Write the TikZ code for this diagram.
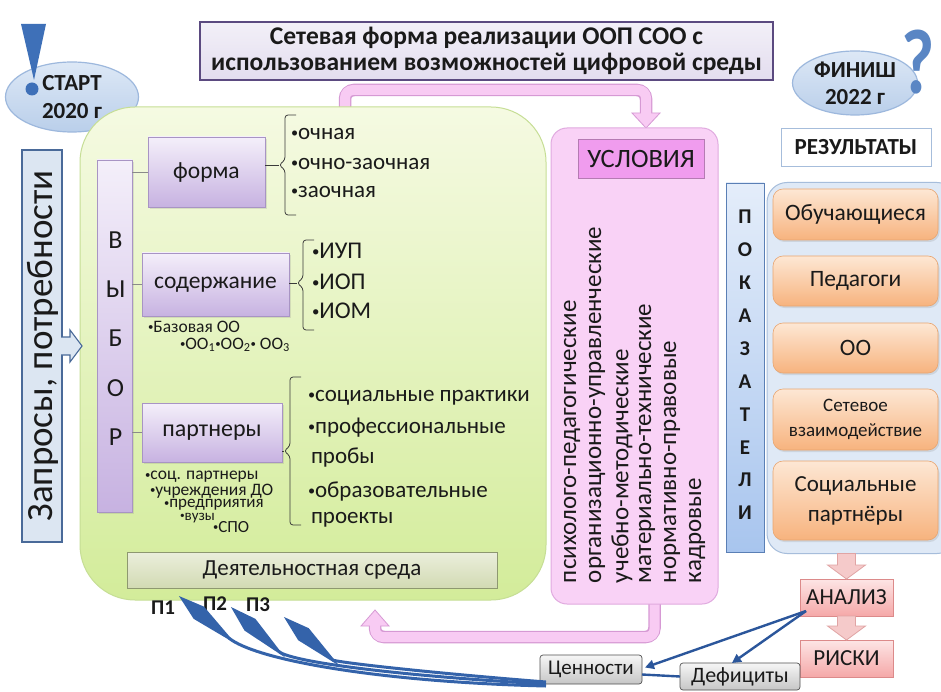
\documentclass[tikz,border=0pt]{standalone}
\usepackage{fontspec}
\setmainfont{Carlito}
\usetikzlibrary{arrows.meta,shapes.geometric,shadows,calc}
\pgfdeclarelayer{bg}
\pgfsetlayers{bg,main}
\definecolor{txt}{HTML}{1A1A1A}
\definecolor{titlefill}{HTML}{E3DDEF}
\definecolor{titlebd}{HTML}{5B4A80}
\definecolor{ellfillA}{HTML}{DDE8F6}
\definecolor{ellfillB}{HTML}{BACFEA}
\definecolor{ellbd}{HTML}{9DB8DD}
\definecolor{markblue}{HTML}{3E70B8}
\definecolor{qblue}{HTML}{5A86C4}
\definecolor{zapfill}{HTML}{DCE6F2}
\definecolor{zapbd}{HTML}{4A6A99}
\definecolor{greenA}{HTML}{F5FAE2}
\definecolor{greenB}{HTML}{D3EC9A}
\definecolor{greenbd}{HTML}{C6DE95}
\definecolor{purA}{HTML}{F4EFFA}
\definecolor{purB}{HTML}{C7B2E1}
\definecolor{purbd}{HTML}{A894C4}
\definecolor{deyA}{HTML}{EBEFDC}
\definecolor{deyB}{HTML}{D2DAB3}
\definecolor{deybd}{HTML}{8E9870}
\definecolor{uslfill}{HTML}{F9D2F6}
\definecolor{uslbd}{HTML}{E0AADF}
\definecolor{usllab}{HTML}{F09CEE}
\definecolor{usllabbd}{HTML}{B57BB3}
\definecolor{pinkfill}{HTML}{F8CBF3}
\definecolor{pinkbd}{HTML}{D699D4}
\definecolor{pokA}{HTML}{E4EDFA}
\definecolor{pokB}{HTML}{A8C5EE}
\definecolor{pokbd}{HTML}{5A7FB5}
\definecolor{panfill}{HTML}{DFE9F6}
\definecolor{panbd}{HTML}{A6BDDB}
\definecolor{orA}{HTML}{FDE7D4}
\definecolor{orB}{HTML}{F7B37E}
\definecolor{orbd}{HTML}{E8A570}
\definecolor{redA}{HTML}{FDE5E5}
\definecolor{redB}{HTML}{F5A8A8}
\definecolor{redbd}{HTML}{DC8A8A}
\definecolor{barfill}{HTML}{F5CACA}
\definecolor{barbd}{HTML}{E0A4A4}
\definecolor{grayA}{HTML}{F6F6F6}
\definecolor{grayB}{HTML}{C6C6C6}
\definecolor{graybd}{HTML}{505050}
\definecolor{lineblue}{HTML}{2B569B}
\definecolor{parrow}{HTML}{3463AA}
\definecolor{braceclr}{HTML}{3A3A3A}
\definecolor{connclr}{HTML}{8A8A8A}
\newcommand{\fsz}[2]{\fontsize{#1}{#2}\selectfont}
\newcommand{\bul}{\raisebox{0.1em}{\scalebox{0.62}{•}}}
\newcommand{\mybrace}[5]{%
  \draw[brc] (#2+11,#3) -- (#2,#3) -- (#2,#4-5) -- (#2-6,#4) -- (#2,#4+5) -- (#2,#5) -- (#2+11,#5);
  \draw[brc] (#1.east |- 0,#4) -- (#2-6,#4);}
\begin{document}
\begin{tikzpicture}[x=1pt,y=-1pt,
  every node/.style={inner sep=0pt,outer sep=0pt,text=txt,align=center},
  titlebox/.style={draw=titlebd,line width=2.2pt,top color=white!55!titlefill,bottom color=titlefill},
  ellbox/.style={ellipse,draw=ellbd,line width=1.2pt,top color=ellfillA,bottom color=ellfillB},
  greenbox/.style={draw=greenbd,line width=1pt,top color=greenA,bottom color=greenB,rounded corners=55pt},
  purbox/.style={draw=purbd,line width=0.5pt,top color=purA,bottom color=purB,drop shadow={shadow xshift=2pt,shadow yshift=-2pt,opacity=0.2}},
  deybox/.style={draw=deybd,line width=0.8pt,top color=deyA,bottom color=deyB},
  uslbox/.style={draw=uslbd,line width=1pt,fill=uslfill,rounded corners=16pt},
  usllabel/.style={draw=usllabbd,line width=0.6pt,fill=usllab},
  pokbox/.style={draw=pokbd,line width=0.8pt,top color=pokA,bottom color=pokB},
  panbox/.style={draw=panbd,line width=1pt,fill=panfill,rounded corners=20pt},
  orbox/.style={draw=orbd,line width=0.6pt,top color=orA,bottom color=orB,rounded corners=10pt,minimum width=165,drop shadow={shadow xshift=1.5pt,shadow yshift=-2pt,opacity=0.2}},
  redbox/.style={draw=redbd,line width=0.6pt,top color=redA,bottom color=redB,minimum width=93,minimum height=37},
  graybox/.style={draw=graybd,line width=0.7pt,top color=grayA,bottom color=grayB,rounded corners=3pt},
  brc/.style={draw=braceclr,line width=0.8pt,rounded corners=3pt},
  conn/.style={draw=connclr,line width=0.8pt},
  barr/.style={draw=barbd,line width=0.8pt,fill=barfill},
  bline/.style={draw=lineblue,line width=2.4pt},
  parr/.style={draw=parrow,line width=3pt,-{Kite[length=74pt,width=16pt,inset=48pt,fill=parrow]}}
]
\useasboundingbox (0,0) rectangle (941,692);
\begin{pgfonlayer}{bg}
\fill[white] (0,0) rectangle (941,692);
\end{pgfonlayer}

% ---- top title
\node[titlebox,minimum width=573,minimum height=58,font={\fsz{25.5}{26}\bfseries}] (title) at (486.5,51)
  {Сетевая форма реализации ООП СОО с\\ использованием возможностей цифровой среды};

% ---- START / FINISH
\node[ellbox,minimum width=133,minimum height=70,font={\fsz{23}{28}\bfseries}] (start) at (72,97) {СТАРТ\\2020 г};
\fill[markblue] (21,24) -- (46,24) -- (34,80) -- cycle;
\fill[markblue] (32,89) circle (6.5);
\node[ellbox,minimum width=125,minimum height=64,font={\fsz{23}{27}\bfseries}] (finish) at (855,83) {ФИНИШ\\2022 г};
\node[anchor=base,text=qblue,xscale=0.78,font={\fsz{92}{92}\bfseries}] (qmark) at (918,94) {?};
\node[draw=panbd,line width=0.7pt,fill=white,minimum width=150,minimum height=38,font={\fsz{23}{23}\bfseries}] (rez) at (856,147) {РЕЗУЛЬТАТЫ};

% ---- requests box
\node[draw=zapbd,line width=1.6pt,fill=zapfill,minimum width=40,minimum height=392] (zapros) at (42,346) {};
\node[rotate=90,font={\fsz{37}{37}}] (zaptext) at ($(zapros.center)+(1,0)$) {Запросы, потребности};

% ---- green area
\node[greenbox,minimum width=466,minimum height=493] (green) at (313,353.5) {};
\draw[draw=zapbd,line width=1.1pt,fill=zapfill] let \p1=(zapros.east) in
  (\x1-1,\y1+9) -- (\x1+8,\y1+9) -- (\x1+8,\y1+16) -- (\x1+20,\y1) -- (\x1+8,\y1-16) -- (\x1+8,\y1-9) -- (\x1-1,\y1-9);
\node[purbox,minimum width=35,minimum height=352,drop shadow={opacity=0}] (vybor) at (114.5,336) {};
\foreach \L [count=\i from 0] in {В,Ы,Б,О,Р}
  \node[font={\fsz{26}{26}}] (vy\i) at (115.5,240+49.3*\i) {\L};

\node[purbox,minimum width=117,minimum height=70,font={\fsz{23.5}{23.5}}] (forma) at (206.5,172) {форма};
\node[purbox,minimum width=147,minimum height=63,font={\fsz{23.5}{23.5}}] (soder) at (215.5,284.5) {содержание};
\node[purbox,minimum width=140,minimum height=59,font={\fsz{24}{24}}] (partn) at (212,432.5) {партнеры};
\draw[conn] (vybor.east |- forma.west) -- (forma.west);
\draw[conn] (vybor.east |- soder.west) -- (soder.west);
\draw[conn] (vybor.east |- partn.west) -- (partn.west);

\mybrace{forma}{285}{115}{165}{215}
\mybrace{soder}{303}{240}{283}{330}
\mybrace{partn}{290}{377}{451}{525}

\begin{scope}[every node/.append style={anchor=west}]
\node[font={\fsz{23}{23}}] (f1) at (291,134) {\bul очная};
\node[font={\fsz{23}{23}}] (f2) at (291,164) {\bul очно-заочная};
\node[font={\fsz{23}{23}}] (f3) at (291,192) {\bul заочная};
\node[font={\fsz{24}{24}}] (s1) at (312,251) {\bul ИУП};
\node[font={\fsz{24}{24}}] (s2) at (312,282) {\bul ИОП};
\node[font={\fsz{24}{24}}] (s3) at (312,311) {\bul ИОМ};
\node[font={\fsz{17.5}{17.5}}] (b1) at (148,327) {\bul Базовая ОО};
\node[font={\fsz{17.5}{17.5}}] (b2) at (180,345) {\bul ОО\textsubscript{1}\bul ОО\textsubscript{2}\bul\ ОО\textsubscript{3}};
\node[font={\fsz{23}{23}}] (p1) at (308,398) {\bul социальные практики};
\node[font={\fsz{23}{23}}] (p2) at (308,428) {\bul профессиональные};
\node[font={\fsz{23}{23}}] (p3) at (311,458) {пробы};
\node[font={\fsz{23}{23}}] (p4) at (308,492) {\bul образовательные};
\node[font={\fsz{23}{23}}] (p5) at (311,520) {проекты};
\node[font={\fsz{17.5}{17.5}}] (c1) at (145,477) {\bul соц. партнеры};
\node[font={\fsz{17.5}{17.5}}] (c2) at (150,491) {\bul учреждения ДО};
\node[font={\fsz{17}{17}}] (c3) at (164,505) {\bul предприятия};
\node[font={\fsz{15}{15}}] (c4) at (180,518) {\bul вузы};
\node[font={\fsz{17}{17}}] (c5) at (213,527) {\bul СПО};
\end{scope}
\node[deybox,minimum width=370,minimum height=36,font={\fsz{23}{23}}] (deyat) at (312,570) {Деятельностная среда};

% ---- conditions
\node[uslbox,minimum width=167,minimum height=476] (usl) at (634.5,366) {};
\node[usllabel,minimum width=126,minimum height=39,font={\fsz{26.5}{26.5}}] (usllab) at (641,158.5) {УСЛОВИЯ};
\foreach \t [count=\i from 0] in {психолого-педагогические,организационно-управленческие,учебно-методические,материально-технические,нормативно-правовые,кадровые}
  \node[rotate=90,anchor=west,font={\fsz{25}{25}}] (ut\i) at (572+25*\i,583) {\t};

% ---- indicators
\node[pokbox,minimum width=38,minimum height=369] (pokaz) at (745,367.5) {};
\foreach \L [count=\i from 0] in {П,О,К,А,З,А,Т,Е,Л,И}
  \node[font={\fsz{21}{21}\bfseries}] (pk\i) at (745,217+32.9*\i) {\L};
\node[panbox,minimum width=190,minimum height=371] (panel) at (862,368) {};
\node[orbox,minimum height=51,font={\fsz{23.5}{23.5}}] (o1) at (855.5,214.5) {Обучающиеся};
\node[orbox,minimum height=50,font={\fsz{23.5}{23.5}}] (o2) at (855.5,281) {Педагоги};
\node[orbox,minimum height=50,font={\fsz{23.5}{23.5}}] (o3) at (855.5,348) {ОО};
\node[orbox,minimum height=61,font={\fsz{19}{25}}] (o4) at (855.5,419.5) {Сетевое\\взаимодействие};
\node[orbox,minimum height=79,font={\fsz{23}{30}}] (o5) at (855.5,500.5) {Социальные\\партнёры};

% ---- analysis
\node[redbox,font={\fsz{23}{23}}] (analiz) at (846.5,597.5) {АНАЛИЗ};
\node[redbox,font={\fsz{23}{23}}] (riski) at (846.5,658.5) {РИСКИ};
\draw[barr] let \p1=(panel.south -| analiz.north), \p2=(analiz.north) in
  (\x1-9,\y1) -- (\x1+9,\y1) -- (\x1+9,\y2+14) -- (\x1+19,\y2+14) -- (\x2,\y2) -- (\x1-19,\y2+14) -- (\x1-9,\y2+14) -- cycle;
\draw[barr] let \p1=(analiz.south), \p2=(riski.north) in
  (\x1-9,\y1) -- (\x1+9,\y1) -- (\x1+9,\y2+14) -- (\x1+19,\y2+14) -- (\x2,\y2) -- (\x1-19,\y2+14) -- (\x1-9,\y2+14) -- cycle;

\node[graybox,minimum width=102,minimum height=29,font={\fsz{21}{21}}] (cenn) at (591,669.5) {Ценности};
\node[graybox,minimum width=120,minimum height=27,font={\fsz{22}{22}}] (defic) at (740,676.5) {Дефициты};
\draw[bline,-{Triangle[length=9pt,width=9pt]}] ($(analiz.south west)+(6,-5)$) -- ($(cenn.east)+(3,-2)$);
\draw[bline,-{Triangle[length=9pt,width=9pt]}] ($(analiz.south west)+(6,-5)$) -- ($(defic.north)+(-8,0)$);
\draw[bline] ($(cenn.east)+(0,5)$) -- (defic.west);

% ---- P labels and curved arrows
\node[font={\fsz{21}{21}\bfseries}] (pl1) at (163,608) {П1};
\node[font={\fsz{21}{21}\bfseries}] (pl2) at (215,604) {П2};
\node[font={\fsz{21}{21}\bfseries}] (pl3) at (258,605) {П3};
\coordinate (pe1) at ($(cenn.south west)+(6,2)$);
\coordinate (pe2) at ($(cenn.south west)+(6,0)$);
\coordinate (pe3) at ($(cenn.south west)+(6,-2)$);
\draw[parr] (pe1) .. controls (380,682) and (255,660) .. ($(pl1.east)+(4,-12)$);
\draw[parr] (pe2) .. controls (400,676) and (290,662) .. ($(pl2.east)+(4,3)$);
\draw[parr] (pe3) .. controls (420,672) and (335,662) .. ($(pl3.east)+(14,12)$);

% ---- pink U arrows (behind boxes)
\begin{pgfonlayer}{bg}
\coordinate (g1) at ($(green.north)+(32,5)$);
\coordinate (u1) at ($(usl.north)+(11.5,0)$);
\draw[pinkbd,line width=12.5pt,rounded corners=9pt] (g1) -- (g1 |- 0,90) -- (u1 |- 0,90) -- ($(u1)+(0,-13)$);
\filldraw[fill=pinkfill,draw=pinkbd,line width=0.8pt] ($(u1)+(-14,-15)$) -- ($(u1)+(14,-15)$) -- (u1) -- cycle;
\draw[pinkfill,line width=10pt,rounded corners=8pt] (g1) -- (g1 |- 0,90) -- (u1 |- 0,90) -- ($(u1)+(0,-13)$);
\coordinate (u2) at ($(usl.south)+(20,-5)$);
\coordinate (g2) at ($(green.south)+(62,10)$);
\draw[pinkbd,line width=12.5pt,rounded corners=9pt] (u2) -- (u2 |- 0,637) -- (g2 |- 0,637) -- ($(g2)+(0,15)$);
\filldraw[fill=pinkfill,draw=pinkbd,line width=0.8pt] ($(g2)+(-14,16)$) -- ($(g2)+(14,16)$) -- (g2) -- cycle;
\draw[pinkfill,line width=10pt,rounded corners=8pt] (u2) -- (u2 |- 0,637) -- (g2 |- 0,637) -- ($(g2)+(0,14)$);
\end{pgfonlayer}
\end{tikzpicture}
\end{document}
